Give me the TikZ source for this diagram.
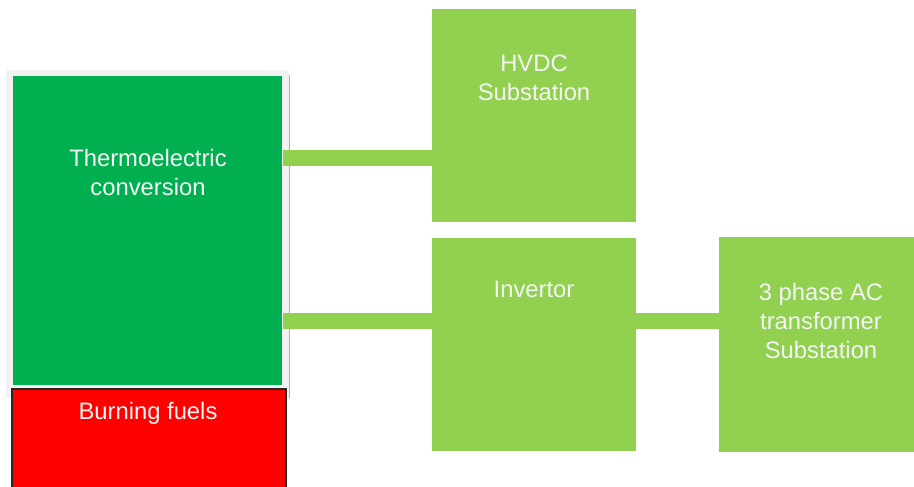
\documentclass[tikz,border=0pt]{standalone}
\usepackage{fontspec}
\setmainfont{Liberation Sans}
\definecolor{dkgreen}{HTML}{00B050}
\definecolor{ltgreen}{HTML}{92D050}
\definecolor{frameclr}{HTML}{F2F2F2}
\definecolor{edgeclr}{HTML}{C9A894}
\definecolor{txtclr}{HTML}{F4F4F4}
\tikzset{
  box/.style={draw=none, inner sep=0pt, anchor=north west},
  lbl/.style={text=txtclr, align=center, anchor=north, inner sep=0pt,
    font=\fontsize{23.8}{29}\selectfont},
  conn/.style={draw=ltgreen, line width=16pt, line cap=butt},
}
\begin{document}
\begin{tikzpicture}[x=1pt,y=-1pt]
\useasboundingbox (0,0) rectangle (914,487);
% frame behind the thermoelectric block
\node[box, fill=frameclr, minimum width=283pt, minimum height=328pt] (frame) at (6,70) {};
\draw[edgeclr, line width=1.2pt] ([yshift=-5pt]frame.north east) -- (frame.south east);
% thermoelectric block
\node[box, fill=dkgreen, minimum width=269pt, minimum height=309pt] (thermo) at (13,76) {};
% burning fuels block
\node[box, fill=red, draw=black!85, line width=1.5pt, minimum width=274pt, minimum height=105pt] (fuel) at (11,388) {};
% right-hand blocks
\node[box, fill=ltgreen, minimum width=204pt, minimum height=213pt] (hvdc) at (432,9) {};
\node[box, fill=ltgreen, minimum width=204pt, minimum height=213pt] (inv) at (432,238) {};
\node[box, fill=ltgreen, minimum width=205pt, minimum height=215pt] (ac) at (719,237) {};
% connectors
\draw[conn] ([xshift=1pt]thermo.east |- 0,158) -- (hvdc.west |- 0,158);
\draw[conn] ([xshift=1pt]thermo.east |- 0,320.5) -- (inv.west |- 0,320.5);
\draw[conn] (inv.east |- 0,320.5) -- (ac.west |- 0,320.5);
% labels
\node[lbl] (thermotxt) at (148,149) {Thermoelectric\\conversion};
\node[lbl] (fueltxt) at (148,402) {Burning fuels};
\node[lbl] (hvdctxt) at (534,55) {HVDC\\Substation};
\node[lbl] (invtxt) at (534,281) {Invertor};
\node[lbl] (actxt) at (821,283) {3 phase AC\\transformer\\Substation};
\end{tikzpicture}
\end{document}
